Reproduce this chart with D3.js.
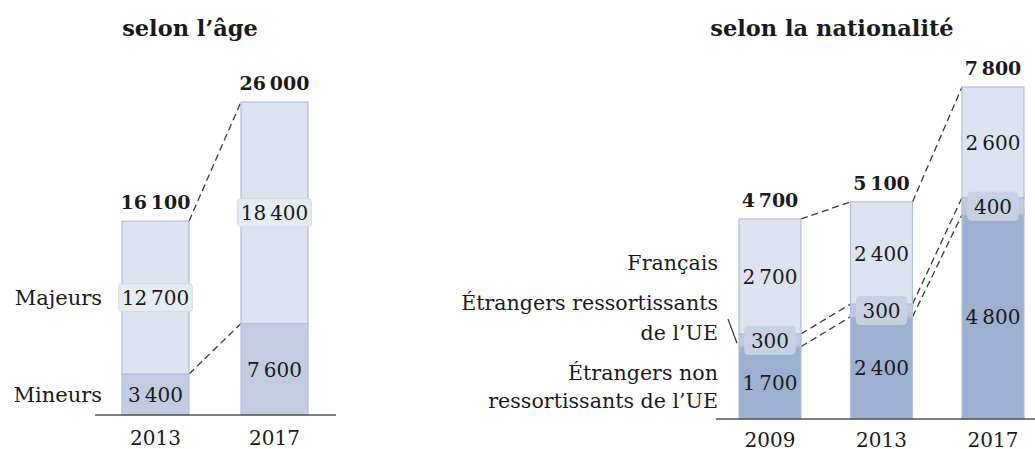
<!DOCTYPE html>
<html>
<head>
<meta charset="utf-8">
<script src="https://cdn.jsdelivr.net/npm/d3@7"></script>
<style>
  body { margin: 0; background: #fff; }
  svg text { font-family: "DejaVu Serif", serif; fill: #1a1a1a; }
</style>
</head>
<body>
<div id="chart"></div>
<script>
// selon l'âge
const ageYears = ['2013', '2017']
const mineurs = [3400, 7600]
const majeurs = [12700, 18400]
const ageTotals = [16100, 26000]

// selon la nationalité
const natYears = ['2009', '2013', '2017']
const horsUE = [1700, 2400, 4800]
const ue = [300, 300, 400]
const francais = [2700, 2400, 2600]
const natTotals = [4700, 5100, 7800]

const W = 1035, H = 449
const fmt = n => d3.format(',')(n).replace(/,/g, '\u202F')

const svg = d3.select('#chart').append('svg')
  .attr('width', W).attr('height', H)

// draws one stacked panel
function panel(o) {
  const g = svg.append('g')
  const x = d3.scaleBand().domain(o.years).range(o.xr).paddingInner(o.pad).paddingOuter(0)
  const y = d3.scaleLinear().domain([0, o.max]).range([o.base, o.top])
  const bw = x.bandwidth()

  // cumulative boundaries per year
  const stacks = o.years.map((yr, i) => {
    let c = 0
    return o.series.map(s => {
      const y0 = c; c += s.values[i]
      return { yr, i, v: s.values[i], y0, y1: c, s }
    })
  })

  // dashed connectors between neighbouring bars
  for (let i = 0; i < o.years.length - 1; i++) {
    stacks[i].forEach((seg, k) => {
      const next = stacks[i + 1][k]
      g.append('line')
        .attr('x1', x(o.years[i]) + bw).attr('y1', y(seg.y1))
        .attr('x2', x(o.years[i + 1])).attr('y2', y(next.y1))
        .attr('stroke', '#3a3a3a').attr('stroke-width', 1.3)
        .attr('stroke-dasharray', '7,4')
    })
  }

  // segments
  stacks.forEach(st => {
    st.forEach(seg => {
      g.append('rect')
        .attr('x', x(seg.yr)).attr('width', bw)
        .attr('y', y(seg.y1)).attr('height', y(seg.y0) - y(seg.y1))
        .attr('fill', seg.s.color)
        .attr('stroke', '#b0bedb').attr('stroke-width', 1.2)
    })
  })

  // value labels
  stacks.forEach(st => {
    st.forEach(seg => {
      const cx = x(seg.yr) + bw / 2
      const cy = (y(seg.y0) + y(seg.y1)) / 2
      const t = g.append('text')
        .attr('x', cx).attr('y', cy + 7.5)
        .attr('text-anchor', 'middle')
        .style('font-size', '20px')
        .text(fmt(seg.v))
      if (seg.s.box) {
        const bb = t.node().getBBox()
        g.insert('rect', () => t.node())
          .attr('x', bb.x - seg.s.box.px).attr('width', bb.width + 2 * seg.s.box.px)
          .attr('y', cy - 14).attr('height', 28).attr('rx', 3)
          .attr('fill', seg.s.box.fill).attr('stroke', seg.s.box.stroke).attr('stroke-width', 1)
      }
    })
  })

  // totals
  g.selectAll('.total').data(o.totals).enter().append('text')
    .attr('class', 'total')
    .attr('x', (d, i) => x(o.years[i]) + bw / 2)
    .attr('y', d => y(d) - 12)
    .attr('text-anchor', 'middle')
    .style('font-size', '19px').style('font-weight', 'bold')
    .text(d => fmt(d))

  // x axis
  const ax = g.append('g')
    .attr('transform', 'translate(0,' + o.base + ')')
    .call(d3.axisBottom(x).tickSize(0).tickPadding(o.tickPad))
  ax.select('.domain').remove()
  ax.selectAll('text').style('font-size', '20px').attr('font-family', null)
  g.append('line')
    .attr('x1', o.axisX[0]).attr('x2', o.axisX[1])
    .attr('y1', o.base).attr('y2', o.base)
    .attr('stroke', '#555').attr('stroke-width', 1.5)

  // title
  g.append('text')
    .attr('x', o.titleX).attr('y', 36)
    .attr('text-anchor', 'middle')
    .style('font-size', '22.5px').style('font-weight', 'bold')
    .text(o.title)

  return { x, y, bw }
}

const left = panel({
  years: ageYears, max: 26000, base: 415, top: 102,
  xr: [122, 308], pad: 0.437, axisX: [95, 336], tickPad: 16,
  totals: ageTotals, title: 'selon l\u2019âge', titleX: 190,
  series: [
    { name: 'Mineurs', values: mineurs, color: '#c2cce0' },
    { name: 'Majeurs', values: majeurs, color: '#dde3ef',
      box: { px: 3, fill: '#e7ebf3', stroke: '#d3d9e6' } }
  ]
})

const right = panel({
  years: natYears, max: 7800, base: 419, top: 87,
  xr: [739, 1024], pad: 0.444, axisX: [716, 1035], tickPad: 14,
  totals: natTotals, title: 'selon la nationalité', titleX: 832,
  series: [
    { name: 'horsUE', values: horsUE, color: '#9db0cf' },
    { name: 'UE', values: ue, color: '#bfcadf',
      box: { px: 6, fill: '#c8d1e3', stroke: '#c8d1e3' } },
    { name: 'Français', values: francais, color: '#dde3ef' }
  ]
})

// category labels
const catLeft = [
  { t: 'Majeurs', y: left.y((mineurs[0] + ageTotals[0]) / 2) },
  { t: 'Mineurs', y: left.y(mineurs[0] / 2) }
]
svg.selectAll('.catL').data(catLeft).enter().append('text')
  .attr('x', 102).attr('y', d => d.y + 7.5)
  .attr('text-anchor', 'end').style('font-size', '21px')
  .text(d => d.t)

const catRight = [
  ['Français', 270],
  ['Étrangers ressortissants', 310],
  ['de l\u2019UE', 340],
  ['Étrangers non', 380],
  ['ressortissants de l\u2019UE', 408]
]
svg.selectAll('.catR').data(catRight).enter().append('text')
  .attr('x', 718).attr('y', d => d[1])
  .attr('text-anchor', 'end').style('font-size', '20.6px')
  .text(d => d[0])

// leader line to the EU segment
svg.append('line')
  .attr('x1', 728).attr('y1', 319)
  .attr('x2', right.x('2009') - 2).attr('y2', right.y(horsUE[0] + ue[0] / 2) + 3)
  .attr('stroke', '#333').attr('stroke-width', 1.2)
</script>
</body>
</html>
